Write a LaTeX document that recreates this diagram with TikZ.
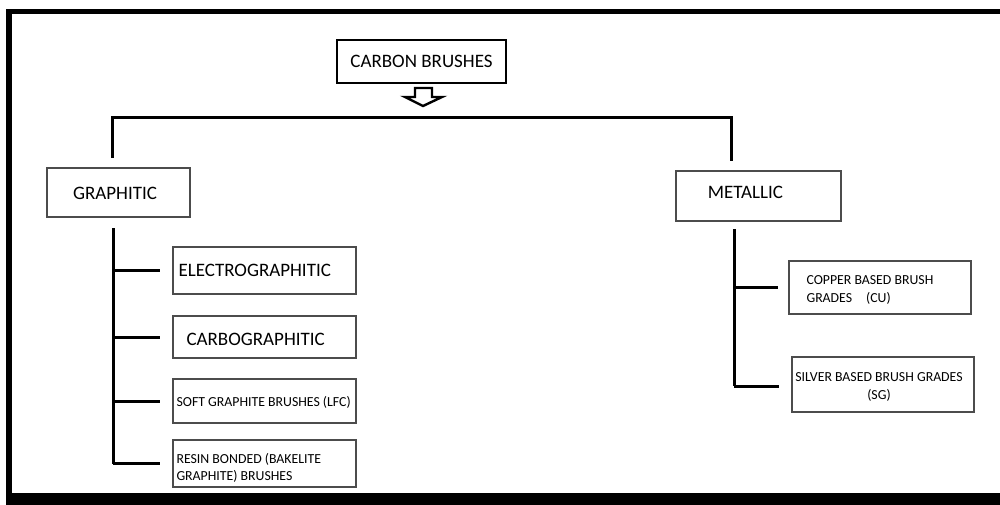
\documentclass[tikz,border=0pt]{standalone}
\usepackage{fontspec}
\setmainfont{Carlito}
\begin{document}
\begin{tikzpicture}[x=1pt,y=-1pt,
  catbox/.style={draw=black!70,line width=1.2pt,rectangle,inner sep=0pt},
  leafbox/.style={draw=black!70,line width=1.2pt,rectangle,inner sep=0pt},
  bigtxt/.style={font=\fontsize{19}{22}\selectfont,text=black},
  smalltxt/.style={font=\fontsize{13.8}{17.5}\selectfont,text=black},
  conn/.style={line width=3pt,black}]
\useasboundingbox (0,0) rectangle (1000,505);
% page frame
\fill[black] (6,9) rectangle (1000,14);
\fill[black] (6,9) rectangle (12,505);
\fill[black] (6,493) rectangle (1000,505);

% root
\node[draw=black,line width=2pt,minimum width=169pt,minimum height=43pt,inner sep=0pt,
      bigtxt] (root) at (421.5,61.5) {CARBON BRUSHES};

% hollow down arrow
\draw[line width=2.4pt,line join=miter,fill=white] (415,88) -- (432,88) -- (432,97) -- (442,97)
  -- (423,106) -- (405,97) -- (415,97) -- cycle;

% category boxes
\node[catbox,minimum width=143pt,minimum height=49pt] (graph) at (118.5,192.5) {};
\node[bigtxt] (graphtxt) at (115,193) {GRAPHITIC};
\node[catbox,minimum width=165pt,minimum height=50pt] (metal) at (758.5,196) {};
\node[bigtxt] (metaltxt) at (745.5,192) {METALLIC};

% distribution bar
\coordinate (barL) at (112,118);
\coordinate (barR) at (731,118);
\coordinate (dropL) at (112,157);
\coordinate (dropR) at (731,160);
\draw[conn,line cap=rect] (dropL) -- (barL) -- (barR) -- (dropR);

% graphitic grades
\node[leafbox,minimum width=183pt,minimum height=47pt] (electro) at (264.5,270.5) {};
\node[bigtxt,anchor=west] (electrotxt) at (175,270) {ELECTROGRAPHITIC};
\node[leafbox,minimum width=183pt,minimum height=42pt] (carbo) at (264.5,337) {};
\node[bigtxt,anchor=west] (carbotxt) at (183,339) {CARBOGRAPHITIC};
\node[leafbox,minimum width=183pt,minimum height=44pt] (soft) at (264.5,401) {};
\node[smalltxt,anchor=west] (softtxt) at (173,402) {SOFT GRAPHITE BRUSHES (LFC)};
\node[leafbox,minimum width=183pt,minimum height=47pt] (resin) at (264.5,463.5) {};
\node[smalltxt,anchor=west,align=left] (resintxt) at (173,468) {RESIN BONDED (BAKELITE\\GRAPHITE) BRUSHES};

\coordinate (gTop) at (113,228);
\coordinate (gBot) at (113,463.5);
\draw[conn] (gTop) -- (gBot);
\foreach \n in {electro,carbo,soft,resin}
  \draw[conn] (gTop |- \n.west) -- ([xshift=-12pt]\n.west);

% metallic grades
\node[leafbox,minimum width=182pt,minimum height=53pt] (copper) at (880,287.5) {};
\node[smalltxt,anchor=west,align=left] (coppertxt) at (803,290) {COPPER BASED BRUSH\\GRADES\hspace{14pt}(CU)};
\node[leafbox,minimum width=182pt,minimum height=55pt] (silver) at (883,384.5) {};
\node[smalltxt,align=center] (silvertxt) at (879,387) {SILVER BASED BRUSH GRADES\\(SG)};

\coordinate (mTop) at (734,229);
\coordinate (mBot) at (734,386);
\draw[conn] (mTop) -- (mBot);
\draw[conn] (mTop |- copper.west) -- ([xshift=-10pt]copper.west);
\draw[conn] (mBot) -- ([xshift=-12pt]mBot -| silver.west);
\end{tikzpicture}
\end{document}
